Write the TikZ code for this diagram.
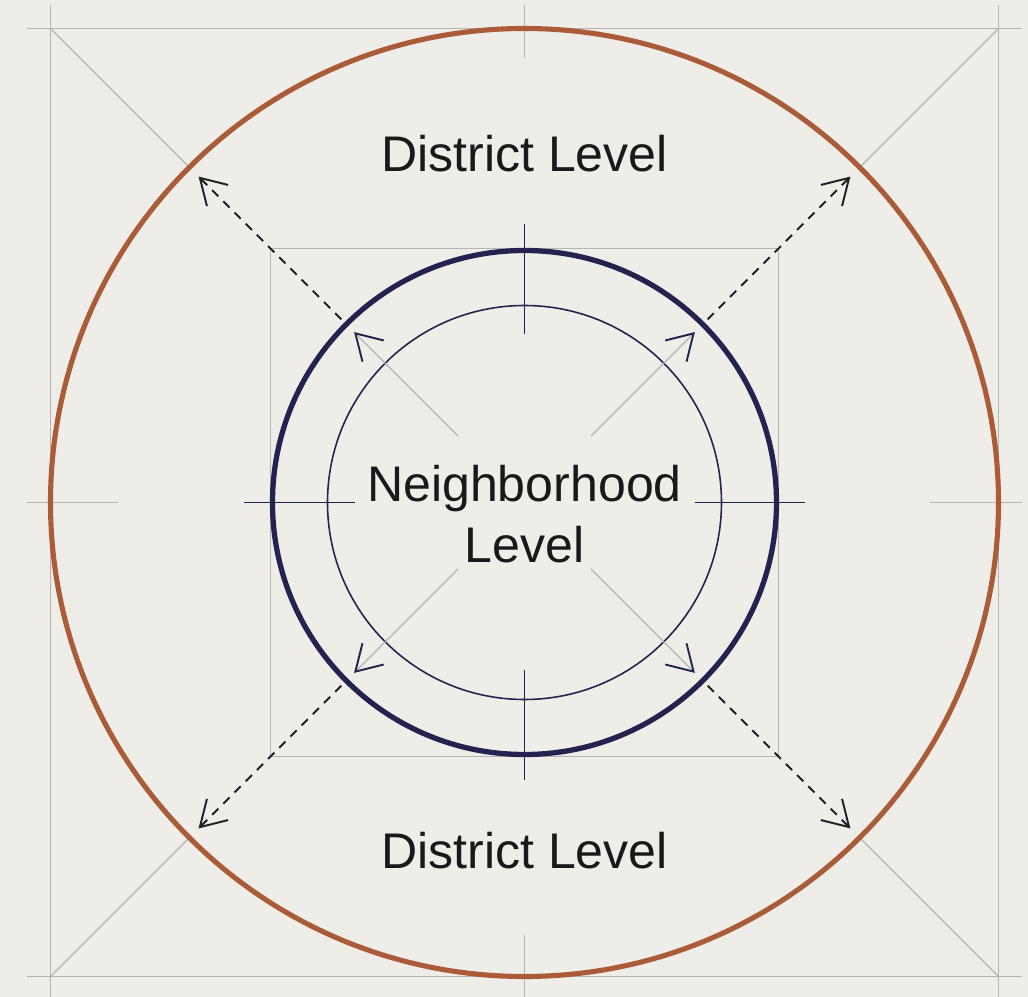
\documentclass[tikz,border=0pt]{standalone}
\usepackage{fontspec}
\setmainfont{Liberation Sans}
\usetikzlibrary{arrows.meta}
\definecolor{paper}{RGB}{239,237,232}
\definecolor{rust}{RGB}{170,92,56}
\definecolor{navy}{RGB}{36,34,78}
\definecolor{guidegray}{RGB}{180,180,178}
\definecolor{ink}{RGB}{32,32,36}
\tikzset{
  guide/.style={draw=guidegray, line width=0.65pt},
  spoke/.style={guide, -{Straight Barb[length=0.5cm,width=0.6cm,line width=1.1pt,color=navy]}},
  reach/.style={draw=ink, line width=1.1pt, dash pattern=on 5pt off 4pt,
    -{Straight Barb[length=0.5cm,width=0.6cm,line width=1.1pt]}},
  level/.style={font=\fontsize{28.5}{35}\selectfont, text=black!90, anchor=base},
}

\begin{document}
\begin{tikzpicture}[x=0.02cm, y=0.02cm]
    \fill [paper] (-524.5,-494.5) rectangle (503.5,502.5);
    \useasboundingbox (-524.5,-494.5) rectangle (503.5,502.5);
    % outer frame, corner diagonals and axis ticks
    \draw [guide] (-497,474) -- (497,474); \draw [guide] (-497,-474)
    -- (497,-474); \draw [guide] (-474,497) -- (-474,-497); \draw
    [guide] (474,497) -- (474,-497); \draw [guide] (-474,474) --
    (135:474); \draw [guide] (474,474) -- (45:474); \draw [guide]
    (-474,-474) -- (225:474); \draw [guide] (474,-474) -- (315:474);
    \draw [guide] (0,497) -- (0,444); \draw [guide] (0,-497) --
    (0,-432); \draw [guide] (-497,0) -- (-406,0); \draw [guide]
    (497,0) -- (405,0);
    % district circle
    \draw [rust, line width=2.9pt] (0,0) circle [radius=474];
    % neighborhood frame and circles
    \draw [guide] (-254,-254) rectangle (254,254); \draw [navy, line
    width=3pt] (0,0) circle [radius=252]; \draw [navy, line
    width=0.9pt] (0,0) circle [radius=197]; \draw [navy, line
    width=1pt] (-280,0) -- (-169,0); \draw [navy, line width=1pt]
    (170,0) -- (280,0); \draw [navy, line width=1pt] (0,168) --
    (0,278); \draw [navy, line width=1pt] (0,-168) -- (0,-278);
    % spokes inside, dashed reach outside
    \draw [spoke] (45:94) -- (45:241); \draw [spoke] (135:94) --
    (135:241); \draw [spoke] (225:94) -- (225:241); \draw [spoke]
    (315:94) -- (315:241); \draw [reach] (45:259) -- (45:461); \draw
    [reach] (135:259) -- (135:461); \draw [reach] (225:259) --
    (225:461); \draw [reach] (315:259) -- (315:461);
    % labels
    \node [level] (districttop) at (0,330.5) {District Level}; \node
    [level] (districtbot) at (0,-366.5) {District Level}; \node
    [level, align=center] (neighborhood) at (0,-60.5)
    {Neighborhood\\Level};
\end{tikzpicture}
\end{document}
